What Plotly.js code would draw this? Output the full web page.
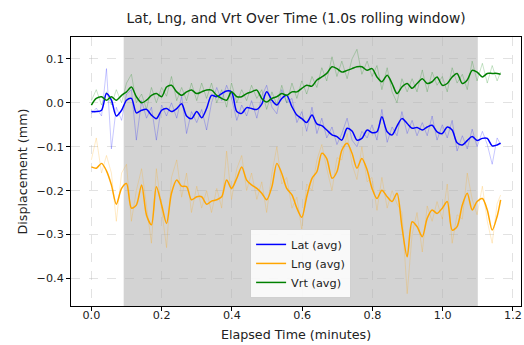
<!DOCTYPE html>
<html>
<head>
<meta charset="utf-8">
<script src="https://cdn.plot.ly/plotly-3.0.1.min.js"></script>
<style>html,body{margin:0;padding:0;background:#fff;}#chart{width:524px;height:345px;}</style>
</head>
<body>
<div id="chart"></div>
<script>
// Elapsed time (minutes)
const timeMin = [0.000,0.014,0.029,0.043,0.057,0.071,0.086,0.100,0.114,0.128,
0.143,0.157,0.171,0.185,0.200,0.214,0.228,0.243,0.257,0.271,
0.285,0.300,0.314,0.328,0.342,0.357,0.371,0.385,0.399,0.414,
0.428,0.442,0.456,0.471,0.485,0.499,0.514,0.528,0.542,0.556,
0.571,0.585,0.599,0.613,0.628,0.642,0.656,0.670,0.685,0.699,
0.713,0.728,0.742,0.756,0.770,0.785,0.799,0.813,0.827,0.842,
0.856,0.870,0.884,0.899,0.913,0.927,0.942,0.956,0.970,0.984,
0.999,1.013,1.027,1.041,1.056,1.070,1.084,1.098,1.113,1.127,
1.141,1.155,1.165];

// Rolling averages (mm)
const latAvg = [-0.020,-0.020,-0.017,0.021,0.006,-0.030,-0.017,0.006,0.010,-0.023,
-0.017,-0.015,-0.028,-0.036,-0.017,-0.013,-0.020,-0.013,-0.002,-0.030,
-0.036,-0.020,-0.034,-0.013,0.017,0.014,0.021,0.027,0.025,-0.020,
-0.024,-0.011,-0.013,-0.015,-0.003,0.025,0.006,-0.005,0.010,0.017,
-0.009,-0.028,-0.036,-0.045,-0.028,-0.048,-0.052,-0.062,-0.073,-0.077,
-0.085,-0.058,-0.064,-0.085,-0.081,-0.062,-0.068,-0.066,-0.032,-0.066,
-0.073,-0.053,-0.036,-0.047,-0.058,-0.056,-0.062,-0.055,-0.051,-0.066,
-0.070,-0.055,-0.062,-0.091,-0.096,-0.086,-0.077,-0.086,-0.081,-0.081,
-0.098,-0.096,-0.092];

const lngAvg = [-0.146,-0.149,-0.138,-0.155,-0.187,-0.231,-0.195,-0.184,-0.240,-0.233,
-0.187,-0.256,-0.278,-0.191,-0.233,-0.275,-0.206,-0.176,-0.190,-0.191,
-0.221,-0.214,-0.214,-0.231,-0.224,-0.221,-0.214,-0.176,-0.195,-0.172,
-0.146,-0.176,-0.187,-0.195,-0.206,-0.221,-0.191,-0.138,-0.161,-0.195,
-0.210,-0.240,-0.261,-0.214,-0.172,-0.157,-0.115,-0.127,-0.172,-0.157,
-0.108,-0.092,-0.115,-0.149,-0.127,-0.153,-0.195,-0.218,-0.199,-0.214,
-0.225,-0.206,-0.282,-0.351,-0.271,-0.282,-0.305,-0.263,-0.244,-0.252,
-0.240,-0.225,-0.290,-0.282,-0.233,-0.206,-0.244,-0.225,-0.218,-0.244,
-0.290,-0.259,-0.221];

const vrtAvg = [-0.005,0.010,0.014,0.006,0.014,0.006,0.017,0.025,0.036,0.014,
0.000,0.006,0.017,0.021,0.014,0.036,0.040,0.025,0.017,0.025,
0.029,0.021,0.025,0.029,0.029,0.017,0.010,0.006,0.025,0.014,
0.014,0.021,0.025,0.029,0.010,0.002,0.010,0.014,0.021,0.017,
0.025,0.025,0.033,0.040,0.038,0.052,0.059,0.067,0.082,0.078,
0.070,0.074,0.078,0.082,0.082,0.074,0.078,0.059,0.048,0.063,
0.044,0.021,0.036,0.044,0.033,0.044,0.055,0.044,0.048,0.059,
0.040,0.044,0.059,0.067,0.044,0.052,0.074,0.070,0.059,0.067,
0.067,0.067,0.065];

// Raw samples (mm)
const latRaw = [-0.025,-0.012,-0.030,0.078,-0.105,-0.010,-0.040,0.020,0.030,-0.085,
0.005,-0.035,-0.010,-0.085,-0.005,-0.030,0.000,-0.035,0.015,-0.070,
-0.020,-0.045,-0.015,-0.062,0.000,0.035,0.005,0.040,0.010,-0.040,
-0.005,-0.030,0.005,-0.035,0.015,0.040,-0.010,-0.025,0.030,0.000,
0.010,-0.045,-0.020,-0.065,-0.010,-0.070,-0.035,-0.080,-0.055,-0.095,
-0.070,-0.035,-0.085,-0.100,-0.065,-0.080,-0.050,-0.085,-0.015,-0.090,
-0.055,-0.075,-0.020,-0.070,-0.040,-0.075,-0.045,-0.075,-0.030,-0.085,
-0.050,-0.080,-0.040,-0.110,-0.075,-0.105,-0.060,-0.100,-0.065,-0.095,
-0.140,-0.080,-0.095];

const lngRaw = [-0.130,-0.080,-0.160,-0.120,-0.160,-0.270,-0.160,-0.140,-0.270,-0.200,
-0.150,-0.230,-0.320,-0.150,-0.250,-0.330,-0.170,-0.130,-0.215,-0.160,
-0.250,-0.190,-0.240,-0.200,-0.250,-0.195,-0.240,-0.110,-0.220,-0.150,
-0.120,-0.200,-0.160,-0.220,-0.180,-0.250,-0.160,-0.100,-0.185,-0.170,
-0.240,-0.215,-0.290,-0.185,-0.200,-0.130,-0.095,-0.150,-0.200,-0.125,
-0.130,-0.070,-0.140,-0.175,-0.100,-0.180,-0.170,-0.245,-0.170,-0.240,
-0.200,-0.230,-0.250,-0.435,-0.300,-0.250,-0.340,-0.235,-0.270,-0.225,
-0.265,-0.185,-0.320,-0.255,-0.265,-0.160,-0.220,-0.255,-0.190,-0.270,
-0.320,-0.230,-0.210];

const vrtRaw = [0.005,0.030,-0.005,0.025,-0.005,0.030,0.000,0.045,0.065,0.000,
0.020,-0.015,0.035,0.000,0.035,0.015,0.060,0.005,0.035,0.005,
0.045,0.005,0.045,0.010,0.045,0.000,0.030,-0.010,0.045,0.000,
0.030,0.005,0.040,0.010,0.030,-0.015,0.025,-0.005,0.040,0.000,
0.045,0.010,0.050,0.020,0.060,0.035,0.080,0.050,0.105,0.060,
0.095,0.055,0.100,0.122,0.065,0.095,0.060,0.085,0.030,0.080,
0.025,0.000,0.055,0.025,0.055,0.025,0.075,0.025,0.070,0.040,
0.060,0.025,0.080,0.045,0.065,0.030,0.095,0.050,0.090,0.045,
0.085,0.050,0.070];

const seriesNames = ['Lat (avg)', 'Lng (avg)', 'Vrt (avg)'];
const shadeStart = 0.092, shadeEnd = 1.1;

const colors = ['#0000ff', '#ffa500', '#008000'];
const raws = [latRaw, lngRaw, vrtRaw];
const avgs = [latAvg, lngAvg, vrtAvg];

const traces = [];
raws.forEach((r, i) => traces.push({
  x: timeMin, y: r, type: 'scatter', mode: 'lines', showlegend: false, hoverinfo: 'skip',
  line: {color: colors[i], width: 1}, opacity: 0.22
}));
avgs.forEach((a, i) => traces.push({
  x: timeMin, y: a, type: 'scatter', mode: 'lines', name: seriesNames[i],
  line: {color: colors[i], width: 1.5, shape: 'spline', smoothing: 0.8}
}));

const font = {family: 'DejaVu Sans, sans-serif', color: '#222'};
const layout = {
  width: 524, height: 345,
  margin: {l: 71, r: 3, t: 37, b: 39},
  paper_bgcolor: '#fff', plot_bgcolor: '#fff',
  font: font,
  title: {text: 'Lat, Lng, and Vrt Over Time (1.0s rolling window)', font: {family: font.family, size: 13.8, color: '#222'},
          x: 0.565, xanchor: 'center', y: 0.948, yanchor: 'middle'},
  xaxis: {range: [-0.058, 1.223], tickvals: [0,0.2,0.4,0.6,0.8,1.0,1.2], tickformat: '.1f',
          title: {text: 'Elapsed Time (minutes)', font: {size: 12.7}, standoff: 8},
          showline: true, linecolor: '#000', linewidth: 1, mirror: true,
          ticks: 'outside', ticklen: 4, tickcolor: '#000', tickfont: {size: 11.2}, ticklabelstandoff: -5,
          showgrid: true, gridcolor: 'rgba(176,176,176,0.45)', griddash: 'dash', gridwidth: 0.8, zeroline: false},
  yaxis: {range: [-0.463, 0.150], tickvals: [-0.4,-0.3,-0.2,-0.1,0,0.1], tickformat: '.1f',
          title: {text: 'Displacement (mm)', font: {size: 12.7}, standoff: 6},
          showline: true, linecolor: '#000', linewidth: 1, mirror: true,
          ticks: 'outside', ticklen: 4, tickcolor: '#000', tickfont: {size: 11.2},
          showgrid: true, gridcolor: 'rgba(176,176,176,0.45)', griddash: 'dash', gridwidth: 0.8, zeroline: false},
  shapes: [{type: 'rect', xref: 'x', yref: 'paper', x0: shadeStart, x1: shadeEnd, y0: 0, y1: 1,
            fillcolor: '#d3d3d3', line: {width: 0}, layer: 'below'}],
  legend: {x: 0.398, y: 0.03, xanchor: 'left', yanchor: 'bottom',
           bgcolor: 'rgba(255,255,255,0.85)', bordercolor: '#d0d0d0', borderwidth: 1,
           font: {size: 11.3, color: '#222'}, tracegroupgap: 0}
};

Plotly.newPlot('chart', traces, layout, {staticPlot: true, displayModeBar: false});
</script>
</body>
</html>
